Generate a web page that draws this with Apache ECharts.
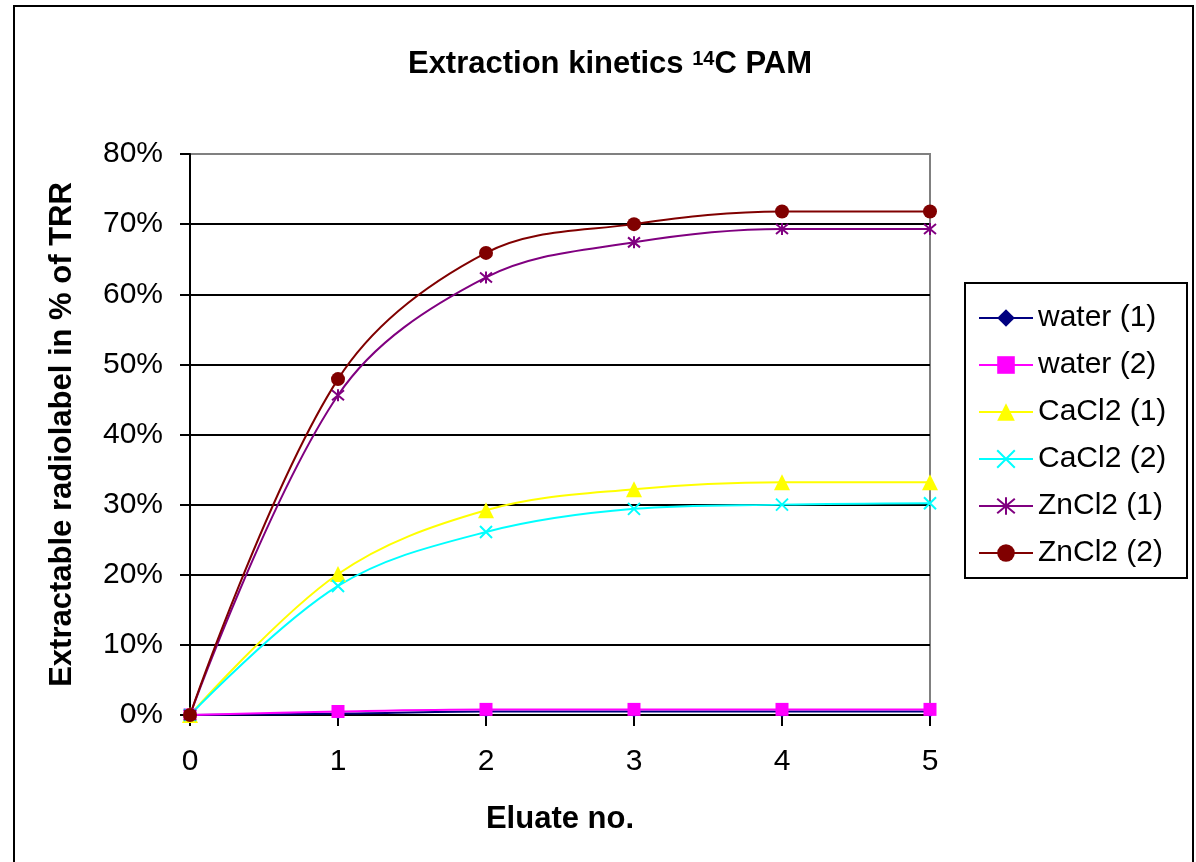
<html lang="en">
  <head>
    <meta charset="UTF-8" />
    <title>Extraction kinetics</title>
    <style>
      html, body { margin: 0; padding: 0; background: #fff; }
    </style>
  </head>
  <body>
    <div id="main" style="width: 1196px; height: 862px"></div>

    <script src="https://cdn.jsdelivr.net/npm/echarts@6/dist/echarts.min.js"></script>
    <script>
      // eluate numbers (x axis)
      const eluates = [0, 1, 2, 3, 4, 5]
      // extractable radiolabel, % of TRR
      const water1 = [0, 0.2, 0.5, 0.5, 0.5, 0.5]
      const water2 = [0, 0.5, 0.8, 0.8, 0.8, 0.8]
      const cacl2_1 = [0, 20.1, 29.2, 32.2, 33.2, 33.2]
      const cacl2_2 = [0, 18.4, 26.1, 29.4, 30.0, 30.2]
      const zncl2_1 = [0, 45.6, 62.4, 67.4, 69.3, 69.3]
      const zncl2_2 = [0, 47.9, 65.9, 70.0, 71.8, 71.8]

      const font = 'Liberation Sans, Arial, sans-serif'
      const pts = arr => eluates.map((x, i) => [x, arr[i]])

      function mk(name, data, color, symbol, size, stroke) {
        return {
          name: name,
          type: 'line',
          data: pts(data),
          smooth: 0.35,
          symbol: symbol,
          symbolSize: size,
          showSymbol: true,
          lineStyle: { color: color, width: 2 },
          itemStyle: stroke
            ? { color: 'rgba(0,0,0,0)', borderColor: color, borderWidth: 2 }
            : { color: color },
          emphasis: { disabled: true }
        }
      }

      const option = {
        animation: false,
        backgroundColor: '#fff',
        textStyle: { fontFamily: font },
        title: {
          text: 'Extraction kinetics {sup|14}C PAM',
          left: 605,
          textAlign: 'center',
          top: 44,
          textStyle: {
            fontFamily: font,
            fontSize: 31,
            fontWeight: 'bold',
            color: '#000',
            rich: {
              sup: {
                fontFamily: font,
                fontSize: 20,
                fontWeight: 'bold',
                color: '#000',
                verticalAlign: 'top',
                padding: [0, 0, 8, 0]
              }
            }
          }
        },
        legend: {
          orient: 'vertical',
          left: 965,
          top: 283,
          padding: [20, 10, 10, 13],
          itemGap: 17,
          itemWidth: 54,
          itemHeight: 22,
          textStyle: { fontFamily: font, fontSize: 30, color: '#000', lineHeight: 30 },
          data: ['water (1)', 'water (2)', 'CaCl2 (1)', 'CaCl2 (2)', 'ZnCl2 (1)', 'ZnCl2 (2)']
        },
        grid: {
          left: 190,
          right: 266,
          top: 154,
          bottom: 147,
          show: true,
          borderColor: '#808080',
          borderWidth: 2,
          containLabel: false
        },
        xAxis: {
          type: 'value',
          min: 0,
          max: 5,
          interval: 1,
          name: 'Eluate no.',
          nameLocation: 'middle',
          nameGap: 89,
          nameTextStyle: { fontFamily: font, fontSize: 31, fontWeight: 'bold', color: '#000' },
          axisLine: { show: true, onZero: false, lineStyle: { color: '#000', width: 2 } },
          axisTick: { show: true, length: 11, lineStyle: { color: '#000', width: 2 } },
          axisLabel: { margin: 32, fontSize: 30, fontFamily: font, color: '#000' },
          splitLine: { show: false }
        },
        yAxis: {
          type: 'value',
          min: 0,
          max: 80,
          interval: 10,
          name: 'Extractable radiolabel in % of TRR',
          nameLocation: 'middle',
          nameGap: 112,
          nameTextStyle: { fontFamily: font, fontSize: 31, fontWeight: 'bold', color: '#000' },
          axisLine: { show: true, lineStyle: { color: '#000', width: 2 } },
          axisTick: { show: true, length: 10, lineStyle: { color: '#000', width: 2 } },
          axisLabel: { margin: 27, fontSize: 30, fontFamily: font, color: '#000', formatter: '{value}%' },
          splitLine: { show: true, showMinLine: false, showMaxLine: false, lineStyle: { color: '#000', width: 2 } }
        },
        series: [
          mk('water (1)', water1, '#000080', 'diamond', 12),
          mk('water (2)', water2, '#FF00FF', 'rect', 13),
          mk('CaCl2 (1)', cacl2_1, '#FFFF00', 'triangle', 16),
          mk('CaCl2 (2)', cacl2_2, '#00FFFF', 'path://M0,0L10,10M10,0L0,10', 12, true),
          mk('ZnCl2 (1)', zncl2_1, '#800080', 'path://M0,0L10,10M10,0L0,10M5,-1L5,11', 12, true),
          mk('ZnCl2 (2)', zncl2_2, '#800000', 'circle', 14)
        ],
        graphic: [
          {
            type: 'rect',
            shape: { x: 14, y: 6, width: 1179, height: 900 },
            style: { fill: 'none', stroke: '#000', lineWidth: 2 },
            silent: true
          },
          {
            type: 'rect',
            shape: { x: 965, y: 283, width: 222, height: 295 },
            style: { fill: 'none', stroke: '#000', lineWidth: 2 },
            silent: true
          }
        ]
      }

      echarts.init(document.querySelector('#main')).setOption(option)
    </script>
  </body>
</html>
